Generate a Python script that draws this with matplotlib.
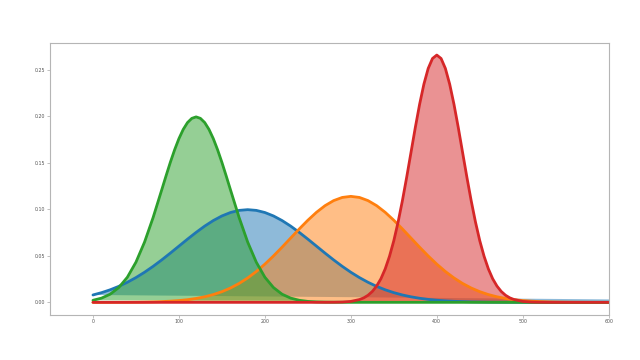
import matplotlib
matplotlib.use("Agg")
import matplotlib.pyplot as plt

# ---- data ----
blue_x = [0, 10, 20, 30, 40, 50, 60, 70, 80, 90, 100, 110, 120, 130, 140, 150, 160, 170, 180,
          190, 200, 210, 220, 230, 240, 250, 260, 270, 280, 290, 300, 310, 320, 330, 340, 350,
          360, 370, 380, 390, 400, 410, 420, 440, 460, 480, 500, 600, 1000]
blue_y = [0.00794, 0.01043, 0.01349, 0.01719, 0.02157, 0.02663, 0.03237, 0.03874, 0.04564,
          0.05295, 0.06047, 0.06799, 0.07525, 0.08201, 0.08798, 0.09293, 0.09663, 0.09892,
          0.09970, 0.09892, 0.09663, 0.09293, 0.08798, 0.08201, 0.07525, 0.06799, 0.06047,
          0.05295, 0.04564, 0.03874, 0.03237, 0.02663, 0.02157, 0.01719, 0.01349, 0.01043,
          0.00794, 0.00594, 0.00438, 0.00318, 0.00227, 0.00160, 0.00111, 0.00051, 0.00022,
          0.00009, 0.00003, 0.0, 0.0]

orange_x = [0, 10, 20, 30, 40, 50, 60, 70, 80, 90, 100, 110, 120, 130, 140, 150, 160, 170,
            180, 190, 200, 210, 220, 230, 240, 250, 260, 270, 280, 290, 300, 310, 320, 330,
            340, 350, 360, 370, 380, 390, 400, 410, 420, 430, 440, 450, 460, 470, 480, 490,
            500, 510, 520, 530, 540, 550, 560, 570, 580, 590, 600, 1000]
orange_y = [0.00001, 0.00002, 0.00004, 0.00007, 0.00012, 0.00019, 0.00032, 0.00052, 0.00082,
            0.00127, 0.00192, 0.00286, 0.00418, 0.00597, 0.00837, 0.01148, 0.01543, 0.02032,
            0.02623, 0.03316, 0.04109, 0.04988, 0.05933, 0.06914, 0.07895, 0.08832, 0.09683,
            0.10400, 0.10944, 0.11284, 0.11400, 0.11284, 0.10944, 0.10400, 0.09683, 0.08832,
            0.07895, 0.06914, 0.05933, 0.04988, 0.04109, 0.03316, 0.02623, 0.02032, 0.01543,
            0.01148, 0.00837, 0.00597, 0.00418, 0.00286, 0.00192, 0.00127, 0.00082, 0.00052,
            0.00032, 0.00019, 0.00012, 0.00007, 0.00004, 0.00002, 0.00001, 0.0]

green_x = [0, 10, 20, 30, 40, 50, 60, 70, 80, 85, 90, 95, 100, 105, 110, 115, 120, 125, 130,
           135, 140, 145, 150, 155, 160, 170, 180, 190, 200, 210, 220, 230, 240, 250, 260,
           270, 280, 300, 400, 1000]
green_y = [0.00221, 0.00455, 0.00876, 0.0159, 0.0270, 0.0432, 0.0648, 0.0913, 0.1210, 0.1360,
           0.1506, 0.1641, 0.1761, 0.1860, 0.1934, 0.1979, 0.1995, 0.1979, 0.1934, 0.1860,
           0.1761, 0.1641, 0.1506, 0.1360, 0.1210, 0.0913, 0.0648, 0.0432, 0.0270, 0.0159,
           0.00876, 0.00455, 0.00221, 0.00101, 0.00044, 0.00018, 0.00007, 0.00001, 0.0, 0.0]

red_x = [0, 200, 260, 270, 280, 290, 300, 310, 315, 320, 325, 330, 335, 340, 345, 350, 355,
         360, 365, 370, 375, 380, 385, 390, 395, 400, 405, 410, 415, 420, 425, 430, 435, 440,
         445, 450, 455, 460, 465, 470, 475, 480, 485, 490, 500, 510, 520, 530, 540, 600, 1000]
red_y = [0.0, 0.0, 0.0, 0.00002, 0.0001, 0.0003, 0.0010, 0.0030, 0.0048, 0.0076, 0.0117,
         0.0175, 0.0254, 0.0360, 0.0496, 0.0663, 0.0864, 0.1094, 0.1347, 0.1613, 0.1880,
         0.2130, 0.2347, 0.2516, 0.2623, 0.2660, 0.2623, 0.2516, 0.2347, 0.2130, 0.1880,
         0.1613, 0.1347, 0.1094, 0.0864, 0.0663, 0.0496, 0.0360, 0.0254, 0.0175, 0.0117,
         0.0076, 0.0048, 0.0030, 0.0010, 0.0003, 0.0001, 0.00002, 0.0, 0.0, 0.0]

series = [(blue_x, blue_y, "#1f77b4"),
          (orange_x, orange_y, "#ff7f0e"),
          (green_x, green_y, "#2ca02c"),
          (red_x, red_y, "#d62728")]

fig = plt.figure(figsize=(16, 9), dpi=40)
ax = fig.add_axes([0.0781, 0.1258, 0.8730, 0.7556])

for xs, ys, c in series:
    ax.fill(xs, ys, color=c, alpha=0.5, linewidth=0)
    ax.plot(xs, ys, color=c, linewidth=5, solid_joinstyle="round", solid_capstyle="round")

ax.set_xlim(-50, 600)
ax.set_ylim(-0.0133, 0.2793)
ax.set_xticks([0, 100, 200, 300, 400, 500, 600])
ax.set_yticks([0.00, 0.05, 0.10, 0.15, 0.20, 0.25])
ax.set_yticklabels(["0.00", "0.05", "0.10", "0.15", "0.20", "0.25"])

for s in ax.spines.values():
    s.set_color("#b5b5b5")
    s.set_linewidth(2)
ax.tick_params(colors="#b5b5b5", labelcolor="#555555", labelsize=8.5, width=1.5, length=5)

fig.savefig("out.png", dpi=40, facecolor="white")
